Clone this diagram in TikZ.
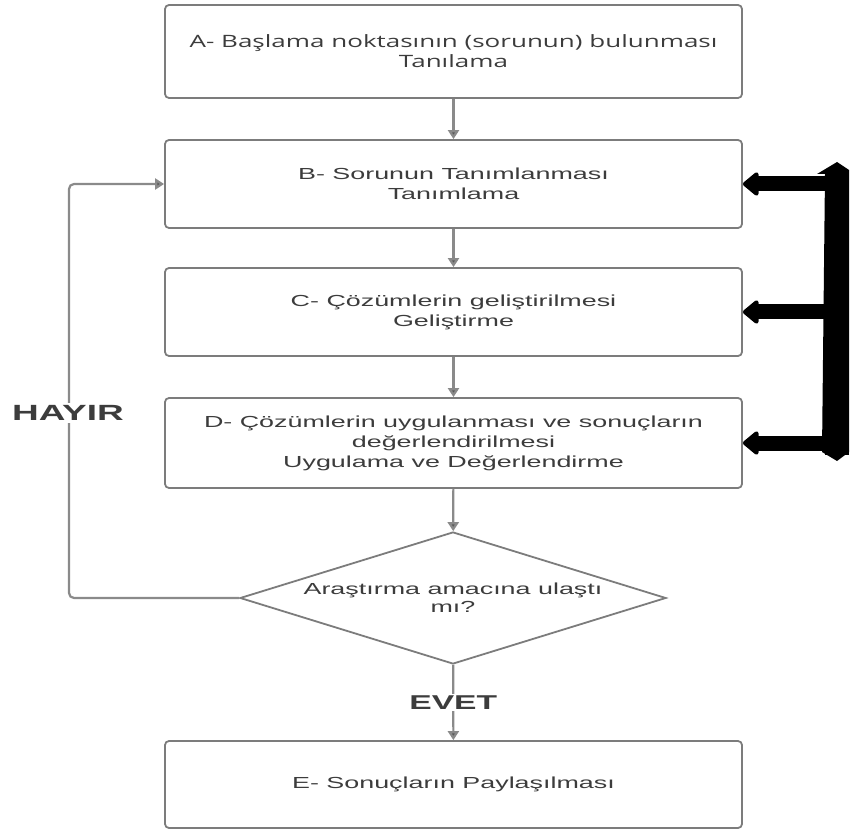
\documentclass[tikz,border=0pt]{standalone}
\usepackage{fontspec}
\setmainfont{Liberation Sans}[FakeStretch=1.68]
\newfontfamily\afont{Open Sans}[FakeStretch=1.53]
\usetikzlibrary{arrows.meta,shapes.geometric}
\definecolor{txt}{HTML}{3C3C3C}
\definecolor{edge}{HTML}{7C7C7C}
\definecolor{conn}{HTML}{8A8A8A}
\definecolor{tipc}{HTML}{5A5A5A}
\begin{document}
\begin{tikzpicture}[x=1pt,y=-1pt,
  box/.style={draw=edge, line width=1.8pt, rounded corners=4pt, minimum width=577pt,
    align=center, text=txt, font=\fontsize{16}{20}\selectfont, inner sep=0pt},
  conn/.style={draw=conn, line width=2.2pt, -{Triangle[length=9pt,width=11pt,fill=tipc]}},
  bigarrow/.style={draw=black, line width=15pt, -{Triangle[length=17pt,width=27pt,round]}},
  lbl/.style={fill=white, text=txt, inner sep=2pt, font=\bfseries\fontsize{22}{26}\selectfont}
]
\useasboundingbox (0,0) rectangle (852,834);

\node[box, minimum height=93pt] (A) at (453.5,51.5)
  {\afont\fontsize{17}{21}\selectfont A- Başlama noktasının (sorunun) bulunması\\ \afont\fontsize{17}{21}\selectfont Tanılama};
\node[box, minimum height=88pt] (B) at (453.5,184) {B- Sorunun Tanımlanması\\Tanımlama};
\node[box, minimum height=88pt] (C) at (453.5,312) {C- Çözümlerin geliştirilmesi\\Geliştirme};
\node[box, minimum height=90pt] (D) at (453.5,443)
  {D- Çözümlerin uygulanması ve sonuçların\\değerlendirilmesi\\Uygulama ve Değerlendirme};
\node[diamond, draw=edge, line width=1.8pt, minimum width=426pt, minimum height=132pt,
  aspect=3.23, inner sep=0pt, align=center, text=txt, font=\fontsize{16}{18}\selectfont] (Q) at (453,598)
  {Araştırma amacına ulaştı\\mı?};
\node[box, minimum height=87pt] (E) at (453.5,784.5) {E- Sonuçların Paylaşılması};

\draw[conn] (A) -- (B);
\draw[conn] (B) -- (C);
\draw[conn] (C) -- (D);
\draw[conn] (D) -- (Q);
\draw[conn] (Q) -- node[lbl, font=\bfseries\fontsize{20}{24}\selectfont] (evet) {EVET} (E);

\coordinate (loopx) at (69,400);
\draw[conn, rounded corners=5pt] (Q.west) -| (loopx) |- (B.west);
\node[lbl] (hayir) at (68,413) {HAYIR};

% right feedback bar
\fill[black, line join=round] (817,174) -- (837,162) -- (849,170) -- (849,452) -- (837,461) -- (822,452) -- (825,174) -- cycle;
\fill[black] (825,170) rectangle (849,455);
\coordinate (r1) at (837,184);
\coordinate (r2) at (837,312);
\coordinate (r3) at (837,443);
\draw[bigarrow] (r1) -- (B.east |- r1);
\draw[bigarrow] (r2) -- (C.east |- r2);
\draw[bigarrow] (r3) -- (D.east |- r3);
\end{tikzpicture}
\end{document}
